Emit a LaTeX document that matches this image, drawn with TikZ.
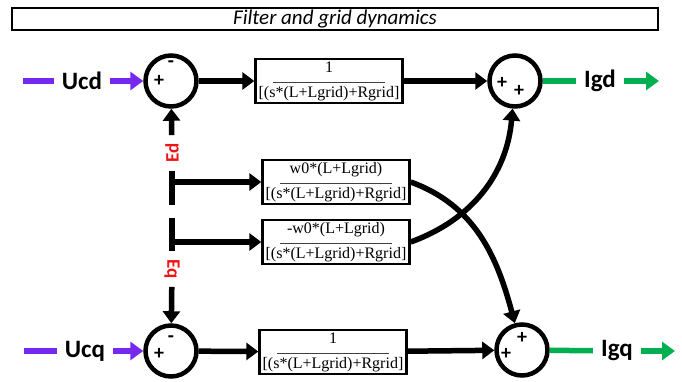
\documentclass[tikz,border=0pt]{standalone}
\usepackage{fontspec}
\setsansfont{Carlito}
\newfontfamily\blockfont{Liberation Serif}
\usetikzlibrary{arrows.meta}
\definecolor{inviolet}{RGB}{118,40,240}
\definecolor{outgreen}{RGB}{0,176,80}
\definecolor{ered}{RGB}{240,20,20}
\newcommand{\blockfrac}[1]{#1\\[-5pt]{\color{darkgray}\rule{112pt}{1pt}}\\[-2pt][(s*(L+Lgrid)+Rgrid]}

\begin{document}
\begin{tikzpicture}[x=1pt,y=1pt,
    summer/.style ={circle, draw, line width=4.5pt, minimum size=51pt, inner sep=0pt},
    block/.style ={draw, line width=2.4pt, minimum width=147pt, minimum height=44pt,
        inner sep=1pt, align=center, font=\blockfont\fontsize{16}{16}\selectfont},
    sign/.style ={inner sep=0pt, font=\sffamily\bfseries\fontsize{20}{20}\selectfont},
    signal/.style ={inner xsep=8pt, font=\sffamily\bfseries\fontsize{25}{25}\selectfont},
    ename/.style ={ered, inner xsep=8pt, inner ysep=1pt, font=\sffamily\bfseries\fontsize{19}{19}\selectfont},
    flow/.style ={line width=5.5pt, -{Triangle[length=12pt,width=17pt]}},
    wire/.style ={line width=5.5pt},
    feed/.style ={line width=5.5pt, -{Triangle[length=13pt,width=18pt]}}]
   \useasboundingbox (0,0) rectangle (682,381);

   \node[draw, line width=2.8pt, minimum width=646pt, minimum height=22pt, inner sep=0pt,
      font=\sffamily\itshape\fontsize{21}{21}\selectfont] (title) at (335,362) {Filter and grid dynamics};

   % d axis
   \node[summer] (sumd1) at (171,300) {};
   \node[sign] (sumd1p) at (159,300) {+};
   \node[sign] (sumd1m) at (171,317) {-};
   \node[block] (blkd) at (329,300) {\blockfrac{1}};
   \node[summer] (sumd2) at (515,300) {};
   \node[sign] (sumd2a) at (502,298) {+};
   \node[sign] (sumd2b) at (519,290) {+};
   \coordinate (ucdin) at (23,300);
   \node[signal] (ucd) at (82,300) {Ucd};
   \node[signal] (igd) at (600,300) {Igd};
   \coordinate (igdout) at (659,300);

   % q axis
   \node[summer] (sumq1) at (171,30) {};
   \node[sign] (sumq1p) at (159,27) {+};
   \node[sign] (sumq1m) at (171,42) {-};
   \node[block] (blkq) at (333,29) {\blockfrac{1}};
   \node[summer] (sumq2) at (522,31) {};
   \node[sign] (sumq2a) at (522,43) {+};
   \node[sign] (sumq2b) at (506,27) {+};
   \coordinate (ucqin) at (24,30);
   \node[signal] (ucq) at (85,30) {Ucq};
   \node[signal] (igq) at (617,30) {Igq};
   \coordinate (igqout) at (675,30);

   % coupling
   \node[block] (blkw) at (336,199) {\blockfrac{w0*(L+Lgrid)}};
   \node[block] (blkmw) at (336,139) {\blockfrac{-w0*(L+Lgrid)}};
   \node[ename,rotate=90] (ed) at (172,228) {Ed};
   \coordinate (edend) at (172,176);
   \coordinate (eqtop) at (172,163);
   \node[ename,rotate=-90] (eq) at (172,112) {Eq};

   \draw[wire,inviolet] (ucdin) -- (ucd);
   \draw[feed,inviolet] (ucd) -- (sumd1);
   \draw[flow] (sumd1) -- (blkd);
   \draw[flow] (blkd) -- (sumd2);
   \draw[wire,outgreen] (sumd2) -- (igd);
   \draw[feed,outgreen] (igd) -- (igdout);

   \draw[wire,inviolet] (ucqin) -- (ucq);
   \draw[feed,inviolet] (ucq) -- (sumq1);
   \draw[flow] (sumq1) -- (blkq);
   \draw[flow] (blkq) -- (sumq2);
   \draw[wire,outgreen] (sumq2) -- (igq);
   \draw[feed,outgreen] (igq) -- (igqout);

   \draw[flow] (ed) -- (sumd1);
   \draw[wire] (ed) -- (edend);
   \draw[flow] (ed |- blkw) -- (blkw);
   \draw[wire] (eqtop) -- (eq);
   \draw[flow] (eq |- blkmw) -- (blkmw);
   \draw[flow] (eq) -- (sumq1);

   \draw[flow] (blkw.east) to[out=-20, in=105] (sumq2);
   \draw[flow] (blkmw.east) to[out=20, in=-95] (sumd2);
 \end{tikzpicture}
\end{document}
